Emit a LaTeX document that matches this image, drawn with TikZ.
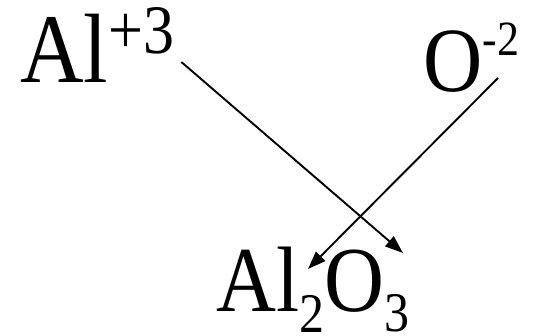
\documentclass[tikz,border=0pt]{standalone}
\usepackage{graphicx}
\usepackage{fontspec}
\setmainfont{Liberation Serif}
\usetikzlibrary{arrows.meta,calc}

\newcommand{\ionidx}[3]{\raisebox{#1pt}{\fontsize{#2}{#2}\selectfont #3}}
\newcommand{\tallfont}[1]{\scalebox{1}[1.12]{#1}}

\tikzset{
  species/.style={inner sep=0pt, anchor=base west, font=\fontsize{88}{88}\selectfont},
  swap/.style={-{Triangle[length=18pt,width=13pt]}, line width=1.9pt},
}

\begin{document}
\begin{tikzpicture}[x=1pt,y=-1pt]
\useasboundingbox (0,0) rectangle (538,336);

% ions
\node[species] (al) at (20,83) {\tallfont{Al\ionidx{26}{62}{+3}}};
\node[species, font=\fontsize{82}{82}\selectfont] (ox) at (423,92) {\tallfont{O\ionidx{33}{44}{-2}}};

% product
\node[species, font=\fontsize{83}{83}\selectfont] (prod) at (216,312)
  {\tallfont{Al\ionidx{-18}{50}{2}O\ionidx{-17}{50}{3}}};

% criss-cross of charges
\draw[swap] ($(al.base east)+(7,-21)$) -- ($(prod.base west)+(187,-59)$);
\draw[swap] ($(ox.base west)+(75,-14)$) -- ($(prod.base west)+(92,-43)$);

\end{tikzpicture}
\end{document}
